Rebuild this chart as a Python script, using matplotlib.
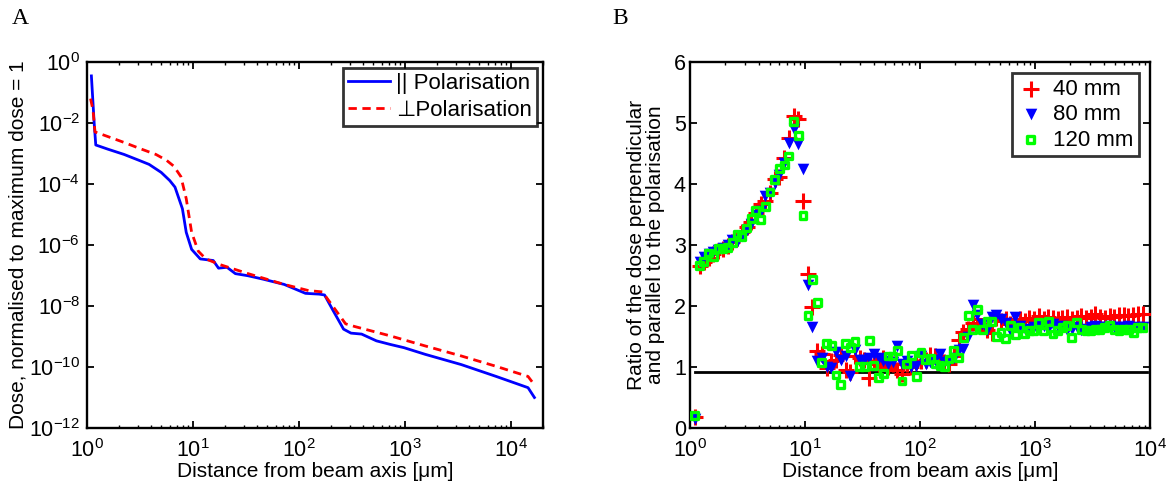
import numpy as np
import matplotlib
matplotlib.use("Agg")
import matplotlib.pyplot as plt
from matplotlib.ticker import LogLocator, NullLocator, FixedLocator

plt.rcParams['font.family'] = ['Liberation Sans', 'DejaVu Sans']
plt.rcParams['mathtext.fontset'] = 'custom'
plt.rcParams['mathtext.rm'] = 'Liberation Sans'
plt.rcParams['mathtext.it'] = 'Liberation Sans:italic'

# ---------------- Panel A data ----------------
par_x = [1.10, 1.17, 1.21, 1.58, 2.24, 3.16, 3.85, 5.01, 6.03, 6.76, 7.13, 7.94, 8.63,
         9.70, 11.7, 15.5, 17.4, 20.9, 25.1, 33.1, 45.7, 72.4, 115, 155, 174, 209,
         263, 309, 389, 537, 724, 977, 1550, 3390, 7240, 14450, 16600]
par_y = [0.35, 9.3e-3, 1.9e-3, 1.38e-3, 9.3e-4, 5.8e-4, 4.4e-4, 2.4e-4, 1.3e-4, 7.9e-5,
         4.6e-5, 1.55e-5, 2.6e-6, 7.2e-7, 3.5e-7, 3.1e-7, 1.74e-7, 1.86e-7, 1.15e-7,
         9.8e-8, 7.6e-8, 5.1e-8, 2.6e-8, 2.45e-8, 2.3e-8, 7.2e-9, 1.74e-9, 1.29e-9,
         1.2e-9, 7.2e-10, 5.5e-10, 4.3e-10, 2.6e-10, 1.2e-10, 4.9e-11, 2.1e-11, 1.0e-11]
perp_x = [1.08, 1.14, 1.19, 2.24, 3.16, 4.47, 5.62, 6.61, 7.69, 8.63, 9.70, 11.2, 13.2,
          17.8, 33.1, 72.4, 123, 166, 195, 275, 339, 724, 1550, 3390, 7240, 14450, 16600]
perp_y = [0.063, 0.026, 5.1e-3, 2.3e-3, 1.45e-3, 9.3e-4, 6.0e-4, 3.8e-4, 1.74e-4, 3.3e-5,
          2.6e-6, 6.3e-7, 3.5e-7, 2.3e-7, 1.15e-7, 5.1e-8, 3.2e-8, 2.9e-8, 1.35e-8,
          2.6e-9, 2.1e-9, 1.05e-9, 4.9e-10, 2.3e-10, 1.05e-10, 4.9e-11, 2.6e-11]

# ---------------- Panel B data ----------------
distance_um = [1.10, 1.21, 1.32, 1.46, 1.60, 1.76, 1.93, 2.12, 2.33, 2.56,
               2.82, 3.10, 3.40, 3.74, 4.11, 4.52, 4.97, 5.46, 6.00, 6.59,
               7.24, 7.96, 8.75, 9.62, 10.6, 11.6, 12.8, 14.0, 15.4, 16.9,
               18.6, 20.5, 22.5, 24.7, 27.2, 29.9, 32.8, 36.1, 39.6, 43.6,
               47.9, 52.6, 57.8, 63.5, 69.8, 76.7, 84.3, 92.7, 102, 112,
               123, 135, 149, 163, 179, 197, 217, 238, 262, 288,
               316, 348, 382, 420, 461, 507, 557, 612, 673, 740,
               813, 893, 982, 1079, 1186, 1303, 1432, 1574, 1730, 1901,
               2089, 2296, 2523, 2773, 3048, 3350, 3681, 4046, 4446, 4887,
               5370, 5902, 6486, 7129, 7834, 8610]
ratio_40mm = [0.18, 2.65, 2.72, 2.78, 2.85, 2.90, 2.93, 2.98, 3.05, 3.12,
              3.22, 3.30, 3.38, 3.52, 3.68, 3.72, 3.85, 4.08, 4.12, 4.42,
              4.76, 5.12, 5.07, 3.72, 2.52, 1.98, 1.27, 1.22, 0.98, 1.10,
              1.12, 1.20, 0.95, 0.92, 1.18, 1.15, 1.12, 0.82, 1.10, 1.05,
              1.15, 1.00, 1.05, 0.95, 0.88, 1.05, 1.00, 1.08, 1.10, 1.12,
              1.20, 1.18, 1.10, 1.08, 1.05, 1.18, 1.45, 1.58, 1.62, 1.72,
              1.78, 1.68, 1.60, 1.55, 1.80, 1.75, 1.78, 1.70, 1.72, 1.78,
              1.75, 1.80, 1.78, 1.84, 1.78, 1.82, 1.80, 1.78, 1.80, 1.82,
              1.78, 1.80, 1.84, 1.80, 1.82, 1.87, 1.82, 1.80, 1.84, 1.82,
              1.85, 1.86, 1.84, 1.86, 1.87, 1.87]
ratio_80mm = [0.15, 2.72, 2.80, 2.85, 2.88, 2.92, 2.95, 3.00, 3.08, 3.05,
              3.15, 3.25, 3.35, 3.50, 3.55, 3.80, 3.85, 4.02, 4.15, 4.35,
              4.68, 4.90, 4.66, 4.24, 2.35, 1.65, 1.10, 1.15, 1.00, 0.98,
              1.25, 1.12, 1.18, 0.85, 1.28, 1.12, 1.12, 1.15, 1.22, 1.15,
              1.10, 1.05, 1.08, 1.35, 1.05, 1.10, 1.00, 1.02, 1.18, 1.05,
              1.08, 1.12, 1.22, 1.08, 1.10, 1.15, 1.28, 1.30, 1.50, 2.02,
              1.85, 1.70, 1.60, 1.82, 1.85, 1.78, 1.72, 1.60, 1.82, 1.68,
              1.62, 1.60, 1.65, 1.70, 1.68, 1.62, 1.70, 1.65, 1.68, 1.60,
              1.62, 1.65, 1.60, 1.62, 1.65, 1.68, 1.66, 1.65, 1.68, 1.65,
              1.66, 1.65, 1.68, 1.64, 1.66, 1.65]
ratio_120mm = [0.21, 2.67, 2.73, 2.87, 2.81, 2.94, 2.94, 2.96, 3.04, 3.18,
               3.14, 3.28, 3.43, 3.56, 3.42, 3.63, 3.87, 4.08, 4.25, 4.31,
               4.46, 5.03, 4.80, 3.49, 1.85, 2.44, 2.06, 1.08, 1.38, 1.35,
               0.87, 0.71, 1.38, 1.32, 1.42, 1.01, 1.01, 1.43, 1.02, 0.83,
               0.90, 1.18, 1.18, 1.27, 0.77, 1.05, 1.19, 0.84, 1.24, 1.12,
               1.14, 1.05, 1.02, 1.00, 1.13, 1.27, 1.16, 1.49, 1.84, 1.61,
               1.94, 1.62, 1.74, 1.75, 1.50, 1.57, 1.47, 1.68, 1.53, 1.65,
               1.54, 1.60, 1.60, 1.73, 1.59, 1.74, 1.54, 1.60, 1.65, 1.68,
               1.49, 1.73, 1.62, 1.60, 1.60, 1.62, 1.61, 1.65, 1.68, 1.62,
               1.60, 1.61, 1.62, 1.57, 1.65, 1.65]
ref_level = 0.915
ref_x = [1.10, 9330]

fig = plt.figure(figsize=(11.7, 4.88), dpi=100)
W, H = 1170, 488
axA = fig.add_axes([87 / W, (H - 428) / H, (543 - 87) / W, (428 - 62) / H])
axB = fig.add_axes([690 / W, (H - 428) / H, (1150 - 690) / W, (428 - 62) / H])

TICK = 15.5
LAB = 15

def style(ax, ypad):
    for s in ax.spines.values():
        s.set_linewidth(1.7)
    ax.tick_params(which='both', direction='in', top=True, right=True,
                   labelsize=TICK, width=1.3)
    ax.tick_params(which='major', length=5)
    ax.tick_params(which='minor', length=2.5, width=1.0)
    ax.tick_params(axis='x', which='major', pad=8)
    ax.tick_params(axis='y', which='major', pad=ypad)

# Panel A
axA.plot(par_x, par_y, color=(0, 0, 1), lw=2, label='|| Polarisation')
axA.plot(perp_x, perp_y, color=(1, 0, 0), lw=2, ls=(0, (3, 2)), label='\u22a5Polarisation')
axA.set_xscale('log')
axA.set_yscale('log')
axA.set_xlim(1, 2.0e4)
axA.set_ylim(1e-12, 1)
axA.yaxis.set_major_locator(FixedLocator([10.0 ** k for k in range(-12, 1, 2)]))
axA.yaxis.set_minor_locator(NullLocator())
axA.xaxis.set_major_locator(LogLocator(base=10, numticks=10))
axA.xaxis.set_minor_locator(LogLocator(base=10, subs=np.arange(2, 10), numticks=20))
style(axA, 5)
axA.set_xlabel('Distance from beam axis [\u03bcm]', fontsize=LAB, labelpad=0)
axA.set_ylabel('Dose, normalised to maximum dose = 1', fontsize=LAB, labelpad=1)
legA = axA.legend(loc='upper right', fontsize=16, frameon=True, fancybox=False,
                  borderpad=0.25, handlelength=1.9, handletextpad=0.25,
                  labelspacing=0.25, borderaxespad=0.25)
legA.get_frame().set_edgecolor('black')
legA.get_frame().set_linewidth(2)

# Panel B
axB.scatter(distance_um, ratio_40mm, marker='+', s=130, color=(1, 0, 0), linewidths=2.2,
            label='40 mm', zorder=3)
axB.scatter(distance_um, ratio_80mm, marker='v', s=70, color=(0, 0, 1), linewidths=0,
            label='80 mm', zorder=3)
axB.scatter(distance_um, ratio_120mm, marker='s', s=24, facecolors='none',
            edgecolors=(0, 1, 0), linewidths=2.4, label='120 mm', zorder=4)
axB.plot(ref_x, [ref_level, ref_level], color='black', lw=2, zorder=2)
axB.set_xscale('log')
axB.set_xlim(1, 1e4)
axB.set_ylim(0, 6)
axB.set_yticks(range(0, 7))
axB.xaxis.set_major_locator(LogLocator(base=10, numticks=10))
axB.xaxis.set_minor_locator(LogLocator(base=10, subs=np.arange(2, 10), numticks=20))
style(axB, 3)
axB.set_xlabel('Distance from beam axis [\u03bcm]', fontsize=LAB, labelpad=0)
axB.set_ylabel('Ratio of the dose perpendicular\nand parallel to the polarisation',
               fontsize=LAB, labelpad=6, linespacing=1.05)
legB = axB.legend(loc='upper right', fontsize=16, frameon=True, fancybox=False,
                  borderpad=0.25, handletextpad=0.4, labelspacing=0.2,
                  borderaxespad=0.5, scatterpoints=1, handlelength=1.2)
legB.get_frame().set_edgecolor('black')
legB.get_frame().set_linewidth(2)

fig.text(12 / W, 1 - 18 / H, 'A', fontsize=17, family='Liberation Serif', va='center')
fig.text(612 / W, 1 - 18 / H, 'B', fontsize=17, family='Liberation Serif', va='center')

fig.savefig('out.png', dpi=100)
